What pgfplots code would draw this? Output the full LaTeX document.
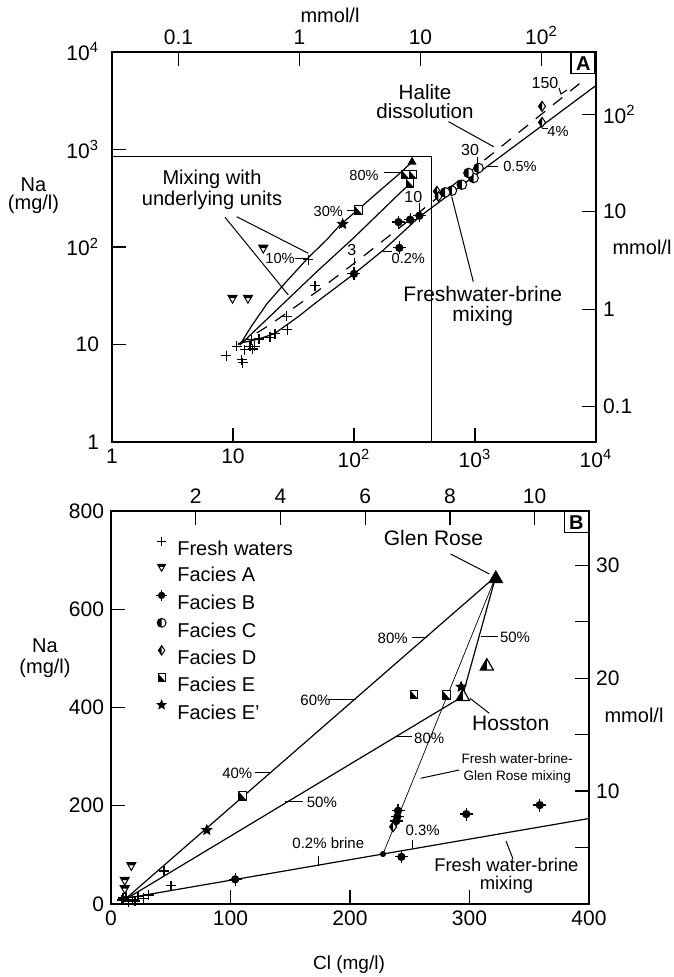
\documentclass[border=0pt]{standalone}
\usepackage{fontspec}
\setmainfont{Liberation Sans}
\usepackage{pgfplots}
\pgfplotsset{compat=1.18}
\usetikzlibrary{plotmarks}
\newcommand\fs[1]{\fontsize{#1}{#1}\selectfont}

% ---- custom marks ----
\pgfdeclareplotmark{hcirc}{%
  \pgfpathcircle{\pgfpointorigin}{\pgfplotmarksize}%
  \pgfsetfillcolor{white}\pgfusepathqfillstroke
  \pgfpathmoveto{\pgfqpoint{0pt}{\pgfplotmarksize}}%
  \pgfpatharc{90}{270}{\pgfplotmarksize}%
  \pgfpathclose\pgfsetfillcolor{black}\pgfusepathqfill}
\pgfdeclareplotmark{fcross}{%
  \pgfsetfillcolor{black}%
  \pgfpathcircle{\pgfpointorigin}{0.8\pgfplotmarksize}%
  \pgfusepathqfill
  \pgfpathmoveto{\pgfqpoint{-1.25\pgfplotmarksize}{0pt}}\pgfpathlineto{\pgfqpoint{1.25\pgfplotmarksize}{0pt}}%
  \pgfpathmoveto{\pgfqpoint{0pt}{-1.25\pgfplotmarksize}}\pgfpathlineto{\pgfqpoint{0pt}{1.25\pgfplotmarksize}}%
  \pgfusepathqstroke}
\pgfdeclareplotmark{dtri}{%
  \pgfpathmoveto{\pgfqpoint{0pt}{-\pgfplotmarksize}}%
  \pgfpathlineto{\pgfqpoint{0.866\pgfplotmarksize}{0.5\pgfplotmarksize}}%
  \pgfpathlineto{\pgfqpoint{-0.866\pgfplotmarksize}{0.5\pgfplotmarksize}}%
  \pgfpathclose\pgfsetfillcolor{white}\pgfusepathqfillstroke
  \pgfpathmoveto{\pgfqpoint{-0.866\pgfplotmarksize}{0.5\pgfplotmarksize}}%
  \pgfpathlineto{\pgfqpoint{0.866\pgfplotmarksize}{0.5\pgfplotmarksize}}%
  \pgfpathlineto{\pgfqpoint{0.55\pgfplotmarksize}{-0.05\pgfplotmarksize}}%
  \pgfpathlineto{\pgfqpoint{-0.55\pgfplotmarksize}{-0.05\pgfplotmarksize}}%
  \pgfpathclose\pgfsetfillcolor{black}\pgfusepathqfill}
\pgfdeclareplotmark{hdiam}{%
  \pgfpathmoveto{\pgfqpoint{0pt}{\pgfplotmarksize}}%
  \pgfpathlineto{\pgfqpoint{0.7\pgfplotmarksize}{0pt}}%
  \pgfpathlineto{\pgfqpoint{0pt}{-\pgfplotmarksize}}%
  \pgfpathlineto{\pgfqpoint{-0.7\pgfplotmarksize}{0pt}}%
  \pgfpathclose\pgfsetfillcolor{white}\pgfusepathqfillstroke
  \pgfpathmoveto{\pgfqpoint{0pt}{\pgfplotmarksize}}%
  \pgfpathlineto{\pgfqpoint{-0.7\pgfplotmarksize}{0pt}}%
  \pgfpathlineto{\pgfqpoint{0pt}{-\pgfplotmarksize}}%
  \pgfpathclose\pgfsetfillcolor{black}\pgfusepathqfill}
\pgfdeclareplotmark{hsq}{%
  \pgfpathrectangle{\pgfqpoint{-0.8\pgfplotmarksize}{-0.9\pgfplotmarksize}}{\pgfqpoint{1.6\pgfplotmarksize}{1.8\pgfplotmarksize}}%
  \pgfsetfillcolor{white}\pgfusepathqfillstroke
  \pgfpathmoveto{\pgfqpoint{-0.8\pgfplotmarksize}{0.9\pgfplotmarksize}}%
  \pgfpathlineto{\pgfqpoint{-0.8\pgfplotmarksize}{-0.9\pgfplotmarksize}}%
  \pgfpathlineto{\pgfqpoint{0.8\pgfplotmarksize}{-0.9\pgfplotmarksize}}%
  \pgfpathclose\pgfsetfillcolor{black}\pgfusepathqfill}
\pgfdeclareplotmark{fstar}{%
  \pgfpathmoveto{\pgfpointpolar{90}{\pgfplotmarksize}}%
  \pgfpathlineto{\pgfpointpolar{126}{0.45\pgfplotmarksize}}%
  \pgfpathlineto{\pgfpointpolar{162}{\pgfplotmarksize}}%
  \pgfpathlineto{\pgfpointpolar{198}{0.45\pgfplotmarksize}}%
  \pgfpathlineto{\pgfpointpolar{234}{\pgfplotmarksize}}%
  \pgfpathlineto{\pgfpointpolar{270}{0.45\pgfplotmarksize}}%
  \pgfpathlineto{\pgfpointpolar{306}{\pgfplotmarksize}}%
  \pgfpathlineto{\pgfpointpolar{342}{0.45\pgfplotmarksize}}%
  \pgfpathlineto{\pgfpointpolar{18}{\pgfplotmarksize}}%
  \pgfpathlineto{\pgfpointpolar{54}{0.45\pgfplotmarksize}}%
  \pgfpathclose\pgfsetfillcolor{black}\pgfusepathqfillstroke}
\pgfdeclareplotmark{htri}{%
  \pgfpathmoveto{\pgfqpoint{0pt}{\pgfplotmarksize}}%
  \pgfpathlineto{\pgfqpoint{-0.866\pgfplotmarksize}{-0.5\pgfplotmarksize}}%
  \pgfpathlineto{\pgfqpoint{0.866\pgfplotmarksize}{-0.5\pgfplotmarksize}}%
  \pgfpathclose\pgfsetfillcolor{white}\pgfusepathqfillstroke
  \pgfpathmoveto{\pgfqpoint{0pt}{\pgfplotmarksize}}%
  \pgfpathlineto{\pgfqpoint{-0.866\pgfplotmarksize}{-0.5\pgfplotmarksize}}%
  \pgfpathlineto{\pgfqpoint{0pt}{-0.5\pgfplotmarksize}}%
  \pgfpathclose\pgfsetfillcolor{black}\pgfusepathqfill}

\pgfplotsset{
  myax/.style={scale only axis, axis line style={line width=0.75pt},
    tick style={line width=0.6pt, black}, tick align=inside, major tick length=7pt,
    tick label style={font=\fs{10.5}}, /pgf/number format/assume math mode=true},
  fresh/.style={only marks, mark=+, mark size=2.5pt, line width=0.7pt, black, forget plot},
  facA/.style={only marks, mark=dtri, mark size=2.6pt, line width=0.5pt, black, forget plot},
  facB/.style={only marks, mark=fcross, mark size=2.6pt, line width=0.6pt, black, forget plot},
  facC/.style={only marks, mark=hcirc, mark size=2.4pt, line width=0.5pt, black, forget plot},
  facD/.style={only marks, mark=hdiam, mark size=2.5pt, line width=0.5pt, black, forget plot},
  facE/.style={only marks, mark=hsq, mark size=2.4pt, line width=0.5pt, black, forget plot},
  facEp/.style={only marks, mark=fstar, mark size=2.6pt, line width=0.4pt, black, forget plot},
  mline/.style={no marks, black, line width=0.6pt, forget plot},
}

\begin{document}
\begin{tikzpicture}[x=0.5pt,y=0.5pt]
\path[use as bounding box] (0,0) rectangle (673,977);

% ================= PANEL A =================
\begin{axis}[myax, at={(56pt,267.5pt)}, anchor=south west, width=242pt, height=195pt,
  xmode=log, ymode=log, xmin=1, xmax=10000, ymin=1, ymax=10000,
  xtick={1,10,100,1000,10000}, xticklabels={1,10,10\textsuperscript{2},10\textsuperscript{3},10\textsuperscript{4}},
  ytick={1,10,100,1000,10000}, yticklabels={1,10,10\textsuperscript{2},10\textsuperscript{3},10\textsuperscript{4}},
  xtick pos=left, ytick pos=left, xminorticks=false, yminorticks=false,
  yticklabel style={xshift=-3pt}]
\addplot[mline] coordinates {(11.4,9.9)(14,15)(19,26)(28,45)(42,78)(60,120)(77,169)(112,251)(160,370)(230,545)(300,740)};
\addplot[mline] coordinates {(11.4,9.9)(20,19.2)(50,56.8)(100,125)(240,358)(290,445)};
\addplot[mline, dash pattern=on 6pt off 5pt] coordinates {(11,10)(20,15.8)(50,35.3)(117,78.7)(365,239.6)(1074,699)(3000,1949)(5329,3459)(8000,5191)};
\addplot[mline] coordinates {(11,10.2)(16,11.3)(22,12.9)(35,19.5)(50,27.7)(100,53)(175,93)(351,206)(1000,541)(3580,1754)(10200,4620)};
\draw[line width=0.6pt] (axis cs:1,849) -- (axis cs:440,849) -- (axis cs:440,1);
\addplot[fresh] coordinates {(8.8,7.7)(10.7,9.6)(11.8,7.0)(12,6.5)(12.5,8.85)(13.8,9.6)(14.5,9.0)(15.1,9.6)(14.2,11.2)(16.4,11.4)(20.2,11.8)(22.2,12.9)(27.7,19.4)(28.1,14.2)(47.5,40.1)(41.9,74)};
\addplot[facA] coordinates {(9.9,30)(13.3,30)(17.8,98)};
\addplot[facB] coordinates {(100,53)(237,98)(233,180)(291,191)(347,209)};
\addplot[facC] coordinates {(1069,646)(973,510)(884,574)(779,435)(644,378)(567,363)};
\addplot[facD] coordinates {(3580,2770)(3580,1897)(484,372)(499,330)};
\addplot[facE] coordinates {(109,238)(267,552)(307,552)(290,453)};
\addplot[facEp] coordinates {(80.6,172)};
\addplot[only marks, mark=triangle*, mark size=2.2pt, black, forget plot] coordinates {(302,745)};
\node[draw, line width=0.75pt, fill=white, anchor=north east, font=\fs{10}\bfseries, minimum width=12pt, minimum height=10.5pt, inner sep=1pt] at (rel axis cs:1,1) {A};
\end{axis}
\begin{axis}[myax, at={(56pt,267.5pt)}, anchor=south west, width=242pt, height=195pt,
  xmode=log, ymode=log, xmin=0.028209, xmax=282.09, ymin=0.043497, ymax=434.97,
  xtick={0.1,1,10,100}, xticklabels={0.1,1,10,10\textsuperscript{2}},
  ytick={0.1,1,10,100}, yticklabels={0.1,1,10,10\textsuperscript{2}},
  xtick pos=right, ytick pos=right, xticklabel pos=right, yticklabel pos=right,
  xminorticks=false, yminorticks=false, axis line style={draw=none}]
\addplot[draw=none, forget plot] coordinates {(1,1)};
\end{axis}

% annotations A
\begin{scope}[line width=0.5pt]
\node[font=\fs{10}] at (330,962) {mmol/l};
\node[font=\fs{10}] at (642,730) {mmol/l};
\node[font=\fontsize{10}{9}\selectfont, align=center] at (33.5,781) {Na\\(mg/l)};
\node[font=\fontsize{10.3}{9.6}\selectfont, align=center] at (425,875) {Halite\\dissolution};
\draw (448.5,855.3) -- (493.6,830.3);
\node[font=\fontsize{10.5}{10}\selectfont, align=center] at (482.8,671) {Freshwater-brine\\mixing};
\draw (473.3,695.3) -- (451.7,780.3);
\node[font=\fontsize{10}{10.4}\selectfont, align=center] at (212,787) {Mixing with\\underlying units};
\draw (236.7,760.3) -- (308.3,723.7);
\draw (225,759.7) -- (288.3,682);
\node[font=\fs{7.3}] at (280,718.7) {10\%}; \draw (295,718.7) -- (306.7,718.7);
\node[font=\fs{7.3}] at (328.3,765.3) {30\%}; \draw (346.7,766.3) -- (356.7,766.3);
\node[font=\fs{7.3}] at (364,802) {80\%}; \draw (384,804.3) -- (401,804.3);
\node[font=\fs{8}] at (351.7,727) {3}; \draw (354,718.7) -- (354,712);
\node[font=\fs{7.3}] at (408.3,718.7) {0.2\%}; \draw (383.3,725.3) -- (391.7,725.3);
\node[font=\fs{8}] at (413.3,780.3) {10}; \draw (419.3,773.7) -- (419.3,762);
\node[font=\fs{8}] at (470,827) {30}; \draw (477.3,820.3) -- (477.3,811);
\node[font=\fs{7.3}] at (520,810.3) {0.5\%}; \draw (486.7,810.3) -- (498.3,810.3);
\node[font=\fs{8}] at (545,893.7) {150}; \draw (559,889) -- (561,883) -- (567,887);
\node[font=\fs{7.3}] at (558,845.3) {4\%}; \draw (541.7,848.7) -- (548.3,848.7);
\end{scope}

% ================= PANEL B =================
\begin{axis}[myax, at={(55.5pt,36.5pt)}, anchor=south west, width=239pt, height=196.5pt,
  xmin=0, xmax=400, ymin=0, ymax=800, xtick={0,100,200,300,400}, ytick={0,200,400,600,800},
  xtick pos=left, ytick pos=left,
  legend style={at={(rel axis cs:0.093,0.935)}, anchor=north west, draw=none, fill=none,
    font=\fs{10}, inner sep=0pt, row sep=4.3pt, column sep=5pt,
    nodes={inner sep=0pt, text height=7.2pt, text depth=0pt}},
  legend cell align=left,
  legend image code/.code={\draw[#1, yshift=3.6pt] plot coordinates {(0pt,0pt)};}]
\addplot[mline] coordinates {(11,8)(322,667)};
\addplot[mline] coordinates {(11,8)(294,422)};
\addplot[mline] coordinates {(294,422)(322,667)};
\addplot[mline] coordinates {(11,11)(400,174)};
\addplot[no marks, black, line width=0.35pt, forget plot] coordinates {(227.6,101.7)(322,667)};
\addplot[fresh] coordinates {(8.9,8)(12.5,14.9)(17.9,8)(22.6,14.9)(27,11.5)(31.4,18.3)(14.4,4.6)(10,12)(20,6)(50.1,37.3)(44.2,67)};
\addplot[facA] coordinates {(17,79)(11.5,49)(11.5,32)};
\addplot[facB] coordinates {(103.9,50.2)(243,96)(240.2,189.8)(239.6,177.6)(238.7,168.8)(297.3,183)(358.8,201.4)};
\addplot[facD] coordinates {(236,157)};
\addplot[facE] coordinates {(110.3,219.7)(253.5,426.5)(280.6,425.5)};
\addplot[facEp] coordinates {(80.2,150.5)(293,442)};
\addplot[only marks, mark=triangle*, mark size=4pt, black, forget plot] coordinates {(322,662)};
\addplot[only marks, mark=htri, mark size=3.8pt, line width=0.6pt, black, forget plot] coordinates {(314.5,484)(294.5,422)};
\addplot[only marks, mark=*, mark size=1.3pt, black, forget plot] coordinates {(227.6,101.7)};
\addlegendimage{only marks, mark=+, mark size=2.2pt, line width=0.7pt, black}
\addlegendentry{Fresh waters}
\addlegendimage{only marks, mark=dtri, mark size=2.3pt, line width=0.5pt, black}
\addlegendentry{Facies A}
\addlegendimage{only marks, mark=fcross, mark size=2.3pt, line width=0.6pt, black}
\addlegendentry{Facies B}
\addlegendimage{only marks, mark=hcirc, mark size=2.2pt, line width=0.5pt, black}
\addlegendentry{Facies C}
\addlegendimage{only marks, mark=hdiam, mark size=2.3pt, line width=0.5pt, black}
\addlegendentry{Facies D}
\addlegendimage{only marks, mark=hsq, mark size=2.2pt, line width=0.5pt, black}
\addlegendentry{Facies E}
\addlegendimage{only marks, mark=fstar, mark size=2.3pt, line width=0.4pt, black}
\addlegendentry{Facies E'}
\node[draw, line width=0.75pt, fill=white, anchor=north east, font=\fs{10}\bfseries, minimum width=12pt, minimum height=10.5pt, inner sep=1pt] at (rel axis cs:1,1) {B};
\end{axis}
\begin{axis}[myax, at={(55.5pt,36.5pt)}, anchor=south west, width=239pt, height=196.5pt,
  xmin=0, xmax=11.2835, ymin=0, ymax=34.797,
  xtick={2,4,6,8,10}, ytick={5,10,15,20,25,30}, yticklabels={{},10,{},20,{},30},
  xtick pos=right, ytick pos=right, xticklabel pos=right, yticklabel pos=right,
  axis line style={draw=none}]
\addplot[draw=none, forget plot] coordinates {(1,1)};
\end{axis}

% annotations B
\begin{scope}[line width=0.5pt]
\node[font=\fs{9.5}] at (349,12) {Cl (mg/l)};
\node[font=\fontsize{10}{10.3}\selectfont, align=center] at (45,319) {Na\\(mg/l)};
\node[font=\fs{10}] at (634,262) {mmol/l};
\node[font=\fs{10.5}] at (433.5,438.7) {Glen Rose};
\draw (450.6,423) -- (489.3,403);
\node[font=\fs{10.5}] at (510.7,253.7) {Hosston};
\draw (470,278.7) -- (489.3,263.7);
\node[font=\fs{7.5}] at (392.7,338.7) {80\%}; \draw (412,339.7) -- (427,339.7);
\node[font=\fs{7.5}] at (315.5,277) {60\%}; \draw (328.3,277.7) -- (356.2,277.7);
\node[font=\fs{7.5}] at (237.3,203.7) {40\%}; \draw (255.4,204.3) -- (271.2,204.3);
\node[font=\fs{7.5}] at (429.2,238.7) {80\%}; \draw (394.8,240.3) -- (412,240.3);
\node[font=\fs{7.5}] at (321.9,174.3) {50\%}; \draw (285.4,175.3) -- (302.6,175.3);
\node[font=\fs{7.5}] at (515,339.3) {50\%}; \draw (480.7,340.3) -- (497.9,340.3);
\node[font=\fs{7.5}] at (422.7,147) {0.3\%}; \draw (412,137) -- (412,128.7);
\node[font=\fs{7.5}] at (328.3,133.7) {0.2\% brine}; \draw (318.5,121) -- (318.5,111);
\node[font=\fontsize{6.8}{8.2}\selectfont, align=center] at (517.2,208.6) {Fresh water-brine-\\Glen Rose mixing};
\draw (459.2,207) -- (420.6,198.7);
\node[font=\fontsize{9.2}{9.2}\selectfont, align=center] at (506.4,101) {Fresh water-brine\\mixing};
\draw (506,136) -- (513,118);
\end{scope}
\end{tikzpicture}
\end{document}
